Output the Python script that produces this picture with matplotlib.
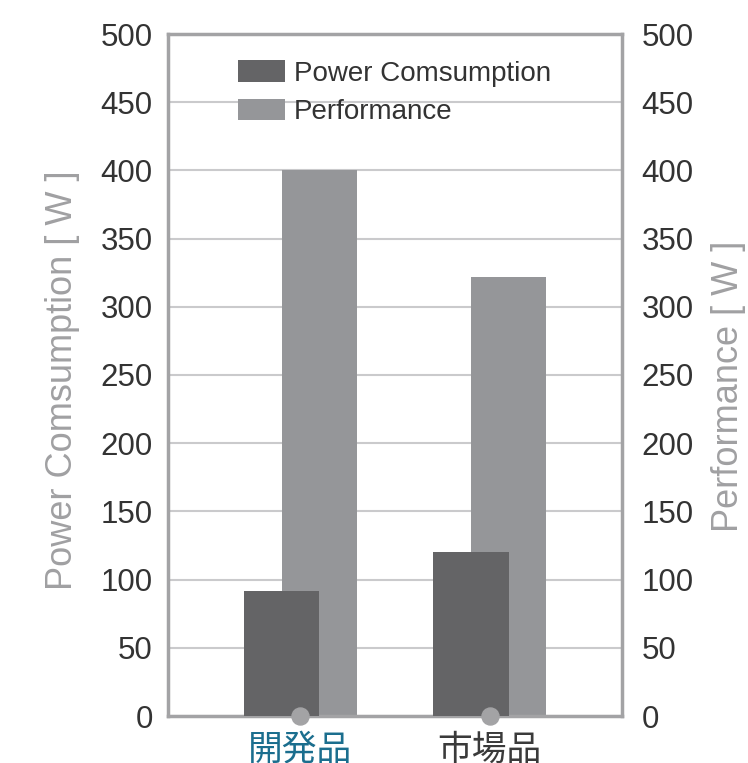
import numpy as np
import matplotlib
matplotlib.use("Agg")
import matplotlib.pyplot as plt

# ── Data ──────────────────────────────────────────────────────────────────────
CATEGORIES = ["開発品", "市場品"]
CATEGORY_COLORS = ["#1b6e8e", "#3a3a3a"]
POWER = [92, 120]
PERFORMANCE = [400, 322]
Y_TICKS = [0, 50, 100, 150, 200, 250, 300, 350, 400, 450, 500]

DARK = "#646466"
LIGHT = "#959699"
SPINE = "#a3a3a5"
GRID = "#cacacc"
LABEL = "#a0a0a2"
TICK_TXT = "#333333"

plt.rcParams["font.family"] = ["Liberation Sans", "DejaVu Sans"]

fig = plt.figure(figsize=(7.48, 7.63), dpi=100)
ax = fig.add_axes([168 / 748, 1 - 716 / 763, 454 / 748, 682 / 763])

x = np.arange(len(CATEGORIES))
width = 0.40
ax.bar(x + 0.10, PERFORMANCE, width, color=LIGHT, zorder=2, label="Performance")
ax.bar(x - 0.10, POWER, width, color=DARK, zorder=3, label="Power Comsumption")

ax.set_xlim(-0.70, 1.70)
ax.set_ylim(0, 500)
ax.set_yticks(Y_TICKS)
ax.grid(True, axis="y", color=GRID, linewidth=1.5, zorder=1)
ax.set_axisbelow(True)

for s in ax.spines.values():
    s.set_color(SPINE)
    s.set_linewidth(2.5)

ax.tick_params(axis="y", length=0, pad=11, labelsize=22.5, labelcolor=TICK_TXT)
ax.set_xticks(x)
ax.set_xticklabels(CATEGORIES, family=["Noto Sans CJK JP", "DejaVu Sans"], fontsize=25)
for lbl, c in zip(ax.get_xticklabels(), CATEGORY_COLORS):
    lbl.set_color(c)
ax.tick_params(axis="x", length=0, pad=12)

# category dots on the baseline
ax.scatter(x, [0] * len(x), s=150, color=SPINE, zorder=5, clip_on=False)

ax2 = ax.twinx()
ax2.set_ylim(0, 500)
ax2.set_yticks(Y_TICKS)
ax2.tick_params(axis="y", length=0, pad=14, labelsize=22.5, labelcolor=TICK_TXT)
for s in ax2.spines.values():
    s.set_visible(False)

# axis titles placed in figure pixels
fig.text(63 / 748, 1 - 380 / 763, "Power Comsumption [ W ]", fontsize=26,
         color=LABEL, rotation=90, ha="center", va="center")
fig.text(728 / 748, 1 - 386 / 763, "Performance [ W ]", fontsize=26,
         color=LABEL, rotation=90, ha="center", va="center")

handles, labels = ax.get_legend_handles_labels()
ax.legend(handles[::-1], labels[::-1], loc="upper left",
          bbox_to_anchor=(0.13, 0.978), frameon=False, fontsize=20,
          handlelength=1.7, handleheight=0.83, handletextpad=0.3,
          labelspacing=0.43, borderaxespad=0, labelcolor="#333333")

fig.savefig("out.png", dpi=100)
